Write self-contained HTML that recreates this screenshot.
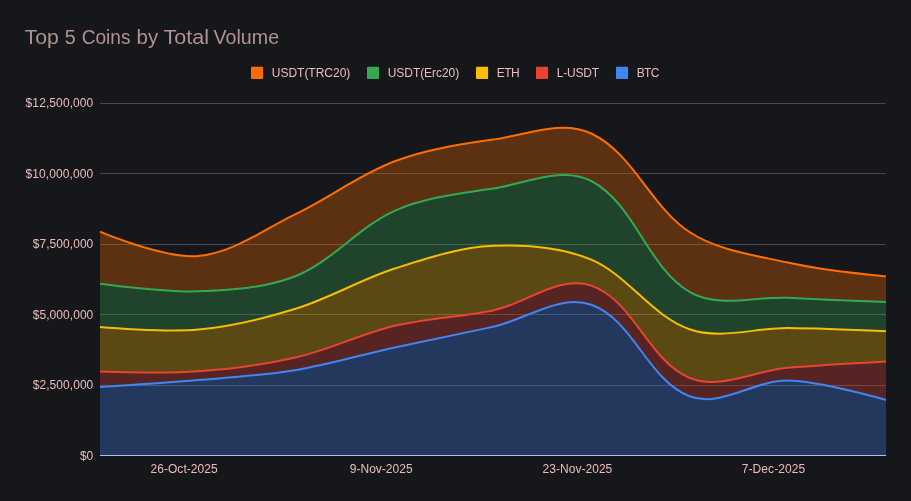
<!DOCTYPE html>
<html><head><meta charset="utf-8"><title>Top 5 Coins by Total Volume</title>
<style>html,body{margin:0;padding:0;background:#16171b;overflow:hidden}body{width:911px;height:501px}</style></head>
<body>
<svg width="911" height="501" viewBox="0 0 911 501" style="display:block;font-family:'Liberation Sans',Arial,sans-serif">
<rect width="911" height="501" fill="#16171b"/>
<text y="44" font-size="20.5" fill="#b09292"><tspan x="24.57" textLength="34.15" lengthAdjust="spacingAndGlyphs">Top</tspan> <tspan x="64.79" textLength="10.96" lengthAdjust="spacingAndGlyphs">5</tspan> <tspan x="81.71" textLength="48.78" lengthAdjust="spacingAndGlyphs">Coins</tspan> <tspan x="136.62" textLength="21.58" lengthAdjust="spacingAndGlyphs">by</tspan> <tspan x="163.47" textLength="45.54" lengthAdjust="spacingAndGlyphs">Total</tspan> <tspan x="213.57" textLength="65.5" lengthAdjust="spacingAndGlyphs">Volume</tspan></text>
<rect x="251" y="66.8" width="12.1" height="12.1" rx="1" fill="#ff6d01"/>
<text x="271.8" y="77" font-size="12" textLength="78.5" fill="#ecbcbc">USDT(TRC20)</text>
<rect x="367" y="66.8" width="12.1" height="12.1" rx="1" fill="#34a853"/>
<text x="387.7" y="77" font-size="12" textLength="71.5" fill="#ecbcbc">USDT(Erc20)</text>
<rect x="476" y="66.8" width="12.1" height="12.1" rx="1" fill="#fbbc04"/>
<text x="496.8" y="77" font-size="12" textLength="22.8" fill="#ecbcbc">ETH</text>
<rect x="536" y="66.8" width="12.1" height="12.1" rx="1" fill="#ea4335"/>
<text x="556.7" y="77" font-size="12" textLength="42.5" fill="#ecbcbc">L-USDT</text>
<rect x="616" y="66.8" width="12.1" height="12.1" rx="1" fill="#4285f4"/>
<text x="636.7" y="77" font-size="12" textLength="22.6" fill="#ecbcbc">BTC</text>
<rect x="100" y="103" width="786" height="1" fill="#46474b"/>
<rect x="100" y="173" width="786" height="1" fill="#46474b"/>
<rect x="100" y="244" width="786" height="1" fill="#46474b"/>
<rect x="100" y="314" width="786" height="1" fill="#46474b"/>
<rect x="100" y="385" width="786" height="1" fill="#46474b"/>
<path d="M100,387C100,387,165.54,382.95,198.25,380.1C231.05,377.25,264.02,375.3,296.5,369.9C329.64,364.38,361.93,354.6,394.75,347.4C427.44,340.23,460.3,333.89,493,326.8C525.8,319.69,559.61,293.61,591.25,304.8C633.44,319.72,647.75,380.19,689.5,396.3C720.44,408.24,754.59,379.98,787.75,380.6C821.13,381.23,886,400,886,400L886,455.5L100,455.5Z" fill="#4285f4" fill-opacity="0.3"/>
<path d="M100,371.5C100,371.5,165.59,373.66,198.25,371.3C231.24,368.92,264.27,364.76,296.5,357.3C330.01,349.54,361.3,333.78,394.75,325.8C426.99,318.1,460.52,317.04,493,310.4C526.09,303.63,559.3,274.64,591.25,285.6C633.73,300.17,648.06,360.49,689.5,377.8C719.88,390.49,754.94,370.44,787.75,367.7C820.45,364.97,886,361.4,886,361.4L886,400C886,400,821.13,381.23,787.75,380.6C754.59,379.98,720.44,408.24,689.5,396.3C647.75,380.19,633.44,319.72,591.25,304.8C559.61,293.61,525.8,319.69,493,326.8C460.3,333.89,427.44,340.23,394.75,347.4C361.93,354.6,329.64,364.38,296.5,369.9C264.02,375.3,231.05,377.25,198.25,380.1C165.54,382.95,100,387,100,387Z" fill="#ea4335" fill-opacity="0.3"/>
<path d="M100,326.9C100,326.9,165.63,332.65,198.25,329.6C231.6,326.48,264.51,318.45,296.5,308.5C330.27,298,361.06,279.25,394.75,268.5C426.77,258.28,459.42,247.3,493,245.8C526.04,244.32,560.8,246.78,591.25,259.7C628.18,275.37,651.61,316.01,689.5,329.2C720.43,339.97,755,327.75,787.75,328.1C820.52,328.45,886,331.3,886,331.3L886,361.4C886,361.4,820.45,364.97,787.75,367.7C754.94,370.44,719.88,390.49,689.5,377.8C648.06,360.49,633.73,300.17,591.25,285.6C559.3,274.64,526.09,303.63,493,310.4C460.52,317.04,426.99,318.1,394.75,325.8C361.3,333.78,330.01,349.54,296.5,357.3C264.27,364.76,231.24,368.92,198.25,371.3C165.59,373.66,100,371.5,100,371.5Z" fill="#fbbc04" fill-opacity="0.3"/>
<path d="M100,283.7C100,283.7,165.43,292.64,198.25,291.3C231.38,289.95,265.81,288.27,296.5,275.7C332.82,260.82,358.87,226.71,394.75,210.8C425.45,197.19,459.8,193.63,493,188.6C525.48,183.67,562.17,165.72,591.25,181C634.96,203.98,647.05,266.67,689.5,291.9C717.7,308.66,754.99,296.1,787.75,297.8C820.49,299.5,886,302.1,886,302.1L886,331.3C886,331.3,820.52,328.45,787.75,328.1C755,327.75,720.43,339.97,689.5,329.2C651.61,316.01,628.18,275.37,591.25,259.7C560.8,246.78,526.04,244.32,493,245.8C459.42,247.3,426.77,258.28,394.75,268.5C361.06,279.25,330.27,298,296.5,308.5C264.51,318.45,231.6,326.48,198.25,329.6C165.63,332.65,100,326.9,100,326.9Z" fill="#34a853" fill-opacity="0.3"/>
<path d="M100,231.7C100,231.7,164.66,259.09,198.25,256C233.77,252.73,264.37,229.09,296.5,213.6C329.92,197.49,360.03,174.38,394.75,161.3C426.14,149.48,459.79,144.3,493,139.6C525.49,135,561.56,119.54,591.25,133.5C633.22,153.23,650.74,206.54,689.5,232C718.17,250.83,754.3,255.01,787.75,262.6C820.01,269.92,886,276.6,886,276.6L886,302.1C886,302.1,820.49,299.5,787.75,297.8C754.99,296.1,717.7,308.66,689.5,291.9C647.05,266.67,634.96,203.98,591.25,181C562.17,165.72,525.48,183.67,493,188.6C459.8,193.63,425.45,197.19,394.75,210.8C358.87,226.71,332.82,260.82,296.5,275.7C265.81,288.27,231.38,289.95,198.25,291.3C165.43,292.64,100,283.7,100,283.7Z" fill="#ff6d01" fill-opacity="0.3"/>
<rect x="100" y="455" width="786" height="1" fill="#a9c0f0"/>
<path d="M100,387C100,387,165.54,382.95,198.25,380.1C231.05,377.25,264.02,375.3,296.5,369.9C329.64,364.38,361.93,354.6,394.75,347.4C427.44,340.23,460.3,333.89,493,326.8C525.8,319.69,559.61,293.61,591.25,304.8C633.44,319.72,647.75,380.19,689.5,396.3C720.44,408.24,754.59,379.98,787.75,380.6C821.13,381.23,886,400,886,400" fill="none" stroke="#4285f4" stroke-width="2"/>
<path d="M100,371.5C100,371.5,165.59,373.66,198.25,371.3C231.24,368.92,264.27,364.76,296.5,357.3C330.01,349.54,361.3,333.78,394.75,325.8C426.99,318.1,460.52,317.04,493,310.4C526.09,303.63,559.3,274.64,591.25,285.6C633.73,300.17,648.06,360.49,689.5,377.8C719.88,390.49,754.94,370.44,787.75,367.7C820.45,364.97,886,361.4,886,361.4" fill="none" stroke="#ea4335" stroke-width="2"/>
<path d="M100,326.9C100,326.9,165.63,332.65,198.25,329.6C231.6,326.48,264.51,318.45,296.5,308.5C330.27,298,361.06,279.25,394.75,268.5C426.77,258.28,459.42,247.3,493,245.8C526.04,244.32,560.8,246.78,591.25,259.7C628.18,275.37,651.61,316.01,689.5,329.2C720.43,339.97,755,327.75,787.75,328.1C820.52,328.45,886,331.3,886,331.3" fill="none" stroke="#fbbc04" stroke-width="2"/>
<path d="M100,283.7C100,283.7,165.43,292.64,198.25,291.3C231.38,289.95,265.81,288.27,296.5,275.7C332.82,260.82,358.87,226.71,394.75,210.8C425.45,197.19,459.8,193.63,493,188.6C525.48,183.67,562.17,165.72,591.25,181C634.96,203.98,647.05,266.67,689.5,291.9C717.7,308.66,754.99,296.1,787.75,297.8C820.49,299.5,886,302.1,886,302.1" fill="none" stroke="#34a853" stroke-width="2"/>
<path d="M100,231.7C100,231.7,164.66,259.09,198.25,256C233.77,252.73,264.37,229.09,296.5,213.6C329.92,197.49,360.03,174.38,394.75,161.3C426.14,149.48,459.79,144.3,493,139.6C525.49,135,561.56,119.54,591.25,133.5C633.22,153.23,650.74,206.54,689.5,232C718.17,250.83,754.3,255.01,787.75,262.6C820.01,269.92,886,276.6,886,276.6" fill="none" stroke="#ff6d01" stroke-width="2"/>
<text x="25.6" y="107.3" font-size="12" textLength="67.7" fill="#ecbcbc">$12,500,000</text>
<text x="25.5" y="177.7" font-size="12" textLength="67.8" fill="#ecbcbc">$10,000,000</text>
<text x="32.7" y="248.1" font-size="12" textLength="60.6" fill="#ecbcbc">$7,500,000</text>
<text x="32.7" y="318.5" font-size="12" textLength="60.6" fill="#ecbcbc">$5,000,000</text>
<text x="32.7" y="388.9" font-size="12" textLength="60.6" fill="#ecbcbc">$2,500,000</text>
<text x="80" y="460" font-size="12" textLength="13.3" fill="#ecbcbc">$0</text>
<text x="150.5" y="473" font-size="12" textLength="67.2" fill="#ecbcbc">26-Oct-2025</text>
<text x="349.8" y="473" font-size="12" textLength="62.8" fill="#ecbcbc">9-Nov-2025</text>
<text x="542.5" y="473" font-size="12" textLength="69.8" fill="#ecbcbc">23-Nov-2025</text>
<text x="741.7" y="473" font-size="12" textLength="63.6" fill="#ecbcbc">7-Dec-2025</text>
</svg>
</body></html>
